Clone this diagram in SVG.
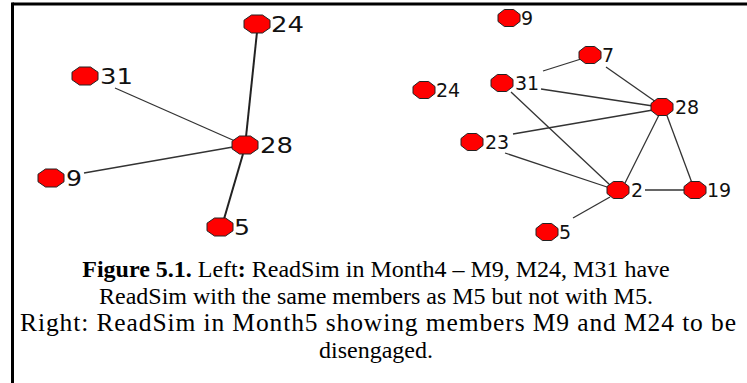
<svg xmlns="http://www.w3.org/2000/svg" width="747" height="383" viewBox="0 0 747 383">
<style>
.frame{stroke:#000;stroke-width:3;fill:none}
.e{stroke:#333;stroke-width:1.3;fill:none}
.e2{stroke:#222;stroke-width:2;fill:none}
.n{fill:#f00;stroke:#222;stroke-width:1}
.lbl{font-family:"DejaVu Sans",Verdana,sans-serif;fill:#111}
.lblL{font-size:21px}
.lblR{font-size:19px}
.cap{font-family:"Liberation Serif","Times New Roman",serif;font-size:24px;fill:#000;text-anchor:middle}
.b{font-weight:bold}
</style>
<defs>
<polygon id="octL" points="-13,-3.8 -5.5,-9 5.5,-9 13,-3.8 13,3.8 5.5,9 -5.5,9 -13,3.8"/>
<polygon id="octR" points="-11,-3.5 -4.6,-8.5 4.6,-8.5 11,-3.5 11,3.5 4.6,8.5 -4.6,8.5 -11,3.5"/>
</defs>
<rect width="747" height="383" fill="#fff"/>
<g id="frame">
<line class="frame" x1="12.5" y1="4" x2="747" y2="4"/>
<line class="frame" x1="12.5" y1="2.5" x2="12.5" y2="383"/>
</g>
<g id="connectors">
<line class="e2" x1="257" y1="32" x2="246" y2="137"/>
<line class="e" x1="115" y1="88" x2="235" y2="141"/>
<line class="e" x1="84" y1="173" x2="233" y2="147"/>
<line class="e2" x1="243" y1="154" x2="224" y2="219"/>
<line class="e" x1="543" y1="71" x2="581" y2="59"/>
<line class="e" x1="606" y1="67" x2="656" y2="102"/>
<line class="e" x1="541" y1="89" x2="653" y2="106"/>
<line class="e" x1="513" y1="134" x2="653" y2="110"/>
<line class="e" x1="511" y1="92" x2="610" y2="185"/>
<line class="e" x1="505" y1="153" x2="610" y2="188"/>
<line class="e" x1="660" y1="113" x2="625" y2="183"/>
<line class="e" x1="666" y1="113" x2="692" y2="183"/>
<line class="e" x1="645" y1="190" x2="686" y2="190"/>
<line class="e" x1="610" y1="197" x2="573" y2="218"/>
</g>
<g id="L24"><use href="#octL" class="n" x="257" y="24"/><text class="lbl lblL" x="271" y="31.5" textLength="33" lengthAdjust="spacingAndGlyphs">24</text></g>
<g id="L31"><use href="#octL" class="n" x="85" y="76"/><text class="lbl lblL" x="100" y="83.5" textLength="33" lengthAdjust="spacingAndGlyphs">31</text></g>
<g id="L28"><use href="#octL" class="n" x="245" y="145"/><text class="lbl lblL" x="260" y="152.5" textLength="33" lengthAdjust="spacingAndGlyphs">28</text></g>
<g id="L9"><use href="#octL" class="n" x="51" y="178"/><text class="lbl lblL" x="66" y="185.5" textLength="16" lengthAdjust="spacingAndGlyphs">9</text></g>
<g id="L5"><use href="#octL" class="n" x="220" y="227"/><text class="lbl lblL" x="234" y="234.5" textLength="16" lengthAdjust="spacingAndGlyphs">5</text></g>
<g id="R9"><use href="#octR" class="n" x="509" y="18"/><text class="lbl lblR" x="521" y="25">9</text></g>
<g id="R7"><use href="#octR" class="n" x="590" y="55"/><text class="lbl lblR" x="602" y="62">7</text></g>
<g id="R31"><use href="#octR" class="n" x="502" y="83"/><text class="lbl lblR" x="515" y="90">31</text></g>
<g id="R24"><use href="#octR" class="n" x="424" y="90"/><text class="lbl lblR" x="436" y="97">24</text></g>
<g id="R28"><use href="#octR" class="n" x="662" y="107"/><text class="lbl lblR" x="675" y="114">28</text></g>
<g id="R23"><use href="#octR" class="n" x="472" y="142"/><text class="lbl lblR" x="485" y="149">23</text></g>
<g id="R2"><use href="#octR" class="n" x="618" y="190"/><text class="lbl lblR" x="631" y="197">2</text></g>
<g id="R19"><use href="#octR" class="n" x="695" y="190"/><text class="lbl lblR" x="707" y="197">19</text></g>
<g id="R5"><use href="#octR" class="n" x="547" y="232"/><text class="lbl lblR" x="559" y="239">5</text></g>
<g id="caption">
<text class="cap" x="376" y="277"><tspan class="b">Figure 5.1.</tspan> Left<tspan class="b">:</tspan> ReadSim in Month4 – M9, M24, M31 have</text>
<text class="cap" x="376" y="304">ReadSim with the same members as M5 but not with M5.</text>
<text class="cap" x="378" y="331" style="font-size:25.5px" textLength="716" lengthAdjust="spacing">Right: ReadSim in Month5 showing members M9 and M24 to be</text>
<text class="cap" x="376" y="358">disengaged.</text>
</g>
</svg>
